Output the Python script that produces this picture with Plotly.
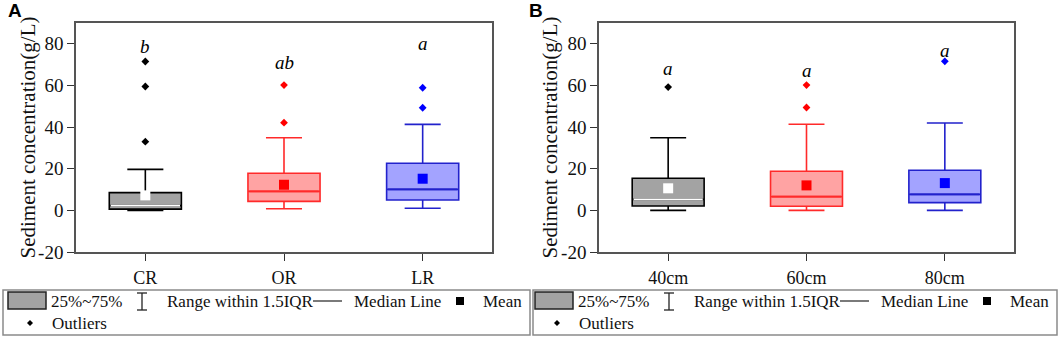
import plotly.graph_objects as go

W, H = 1059, 338

# ---------------- data ----------------
cats_A = ["CR", "OR", "LR"]
cats_B = ["40cm", "60cm", "80cm"]

lower_A = [0.0, 0.8, 1.0]
q1_A = [0.6, 4.3, 5.0]
median_A = [2.3, 9.1, 10.1]
q3_A = [8.5, 17.8, 22.6]
upper_A = [19.7, 34.9, 41.3]
mean_A = [7.2, 12.3, 15.2]
outliers_A = [[33.0, 59.5, 71.5], [42.1, 60.2], [49.3, 58.9]]
letters_A = ["b", "ab", "a"]
letter_y_A = [78.6, 71.2, 80.0]

lower_B = [0.0, 0.0, 0.0]
q1_B = [2.1, 2.0, 3.7]
median_B = [5.3, 6.6, 7.7]
q3_B = [15.4, 18.8, 19.3]
upper_B = [34.9, 41.4, 42.0]
mean_B = [10.6, 12.0, 13.1]
outliers_B = [[59.2], [49.4, 60.2], [71.6]]
letters_B = ["a", "a", "a"]
letter_y_B = [68.2, 67.2, 77.0]

y_ticks = [-20, 0, 20, 40, 60, 80]
y_tick_text = ["-20", "0", "20", "40", "60", "80"]

# ---------------- styles ----------------
fills = ["#a3a3a3", "#ffa3a3", "#a3a3ff"]
edges = ["#000000", "#ff2a2a", "#2222cc"]
median_colors = ["#ffffff", "#ff2a2a", "#2222cc"]
mean_colors = ["#ffffff", "#ff0000", "#0000ff"]
out_colors = ["#000000", "#ff0000", "#0000ff"]
SERIF = "Liberation Serif"
BOXW = 0.52

fig = go.Figure()


def add_panel(xa, ya, lower, q1, med, q3, upper, mean, outs, letters, letter_y):
    for i in range(len(q1)):
        fig.add_trace(go.Box(
            x=[i], q1=[q1[i]], median=[med[i]], q3=[q3[i]],
            lowerfence=[lower[i]], upperfence=[upper[i]],
            width=BOXW, whiskerwidth=0.5, fillcolor=fills[i],
            line=dict(color=edges[i], width=1.6), boxpoints=False,
            xaxis=xa, yaxis=ya, showlegend=False, hoverinfo="skip"))
        # median line
        fig.add_trace(go.Scatter(
            x=[i - BOXW / 2 + 0.01, i + BOXW / 2 - 0.01], y=[med[i], med[i]],
            mode="lines", line=dict(color=median_colors[i], width=1.8),
            xaxis=xa, yaxis=ya, showlegend=False, hoverinfo="skip"))
        # mean
        fig.add_trace(go.Scatter(
            x=[i], y=[mean[i]], mode="markers",
            marker=dict(symbol="square", size=10, color=mean_colors[i],
                        line=dict(width=0)),
            xaxis=xa, yaxis=ya, showlegend=False, hoverinfo="skip"))
        # outliers
        fig.add_trace(go.Scatter(
            x=[i] * len(outs[i]), y=outs[i], mode="markers",
            marker=dict(symbol="diamond", size=6, color=out_colors[i]),
            xaxis=xa, yaxis=ya, showlegend=False, hoverinfo="skip"))
        fig.add_annotation(x=i, y=letter_y[i], xref=xa, yref=ya,
                           text="<i>%s</i>" % letters[i], showarrow=False,
                           font=dict(family=SERIF, size=19, color="#000"))


add_panel("x", "y", lower_A, q1_A, median_A, q3_A, upper_A, mean_A,
          outliers_A, letters_A, letter_y_A)
add_panel("x2", "y2", lower_B, q1_B, median_B, q3_B, upper_B, mean_B,
          outliers_B, letters_B, letter_y_B)

ydom = [1 - 252 / H, 1 - 23 / H]
axis_common = dict(showgrid=False, zeroline=False, showline=True, mirror=True,
                   linecolor="#555555", linewidth=1.5, ticks="outside",
                   ticklen=7, tickwidth=1.3, tickcolor="#333333",
                   automargin=False)
xfont = dict(family=SERIF, size=18, color="#111")
yfont = dict(family=SERIF, size=19, color="#111")

fig.update_layout(
    template="none",
    font=dict(family=SERIF, color="#111"),
    width=W, height=H, margin=dict(l=0, r=0, t=0, b=0, pad=0),
    paper_bgcolor="white", plot_bgcolor="white", boxmode="overlay",
    xaxis=dict(domain=[76 / W, 492 / W], range=[-0.5, 2.5], tickvals=[0, 1, 2],
               ticktext=cats_A, anchor="y", ticklabelstandoff=2,
               tickfont=xfont, **axis_common),
    yaxis=dict(domain=ydom, range=[-20, 90], tickvals=y_ticks,
               ticktext=y_tick_text, anchor="x", tickfont=yfont, **axis_common),
    xaxis2=dict(domain=[599 / W, 1014 / W], range=[-0.5, 2.5], tickvals=[0, 1, 2],
                ticktext=cats_B, anchor="y2", ticklabelstandoff=2,
                tickfont=xfont, **axis_common),
    yaxis2=dict(domain=ydom, range=[-20, 90], tickvals=y_ticks,
                ticktext=y_tick_text, anchor="x2", tickfont=yfont, **axis_common),
)


def px(x):
    return x / W


def py(y):
    return 1 - y / H


# axis titles & panel labels
for xc in (27, 549):
    fig.add_annotation(x=px(xc), y=py(137.5), xref="paper", yref="paper",
                       xanchor="center", yanchor="middle",
                       text="Sediment concentration(g/L)", textangle=-90,
                       showarrow=False,
                       font=dict(family=SERIF, size=21, color="#111"))
for lab, xc in (("A", 15), ("B", 536)):
    fig.add_annotation(x=px(xc), y=py(10), xref="paper", yref="paper",
                       xanchor="center", yanchor="middle",
                       text="<b>%s</b>" % lab, showarrow=False,
                       font=dict(family="Liberation Sans", size=19, color="#000"))

# ---------------- legends (drawn in paper space) ----------------
shapes = []


def legend(ox, fx0, fx1):
    shapes.append(dict(type="rect", xref="paper", yref="paper",
                       x0=px(fx0), x1=px(fx1), y0=py(290), y1=py(335),
                       line=dict(color="#8a8a8a", width=1.5)))
    r1, r2 = 301, 323
    # swatch
    shapes.append(dict(type="rect", xref="paper", yref="paper",
                       x0=px(ox + 8), x1=px(ox + 46), y0=py(292), y1=py(309),
                       fillcolor="#a3a3a3", line=dict(color="#222", width=1.5)))
    # I-beam
    ib = ox + 142
    shapes.append(dict(type="line", xref="paper", yref="paper",
                       x0=px(ib), x1=px(ib), y0=py(293), y1=py(310),
                       line=dict(color="#222", width=1.3)))
    for yy in (293, 310):
        shapes.append(dict(type="line", xref="paper", yref="paper",
                           x0=px(ib - 5), x1=px(ib + 5), y0=py(yy), y1=py(yy),
                           line=dict(color="#222", width=1.3)))
    # median dash
    shapes.append(dict(type="line", xref="paper", yref="paper",
                       x0=px(ox + 313), x1=px(ox + 342), y0=py(r1), y1=py(r1),
                       line=dict(color="#222", width=1.2)))
    # mean square
    shapes.append(dict(type="rect", xref="paper", yref="paper",
                       x0=px(ox + 456), x1=px(ox + 464), y0=py(r1 - 4),
                       y1=py(r1 + 4), fillcolor="#000", line=dict(width=0)))
    # outlier diamond
    dx, dy = ox + 30, r2
    shapes.append(dict(type="path", xref="paper", yref="paper",
                       path="M %f %f L %f %f L %f %f L %f %f Z" % (
                           px(dx - 3), py(dy), px(dx), py(dy - 3),
                           px(dx + 3), py(dy), px(dx), py(dy + 3)),
                       fillcolor="#000", line=dict(width=0)))
    for txt, xx, yy in (("25%~75%", 50, r1), ("Range within 1.5IQR", 166, r1),
                        ("Median Line", 353, r1), ("Mean", 482, r1),
                        ("Outliers", 51, r2)):
        fig.add_annotation(x=px(ox + xx), y=py(yy), xref="paper", yref="paper",
                           text=txt, showarrow=False, xanchor="left",
                           yanchor="middle", borderpad=0,
                           font=dict(family=SERIF, size=17, color="#111"))


legend(0, 3, 530)
legend(527, 533, 1057)
fig.update_layout(shapes=shapes)

fig.write_html("out.html", config={"displayModeBar": False},
               post_script="document.body.style.margin='0';"
                           "document.body.style.overflow='hidden';")
